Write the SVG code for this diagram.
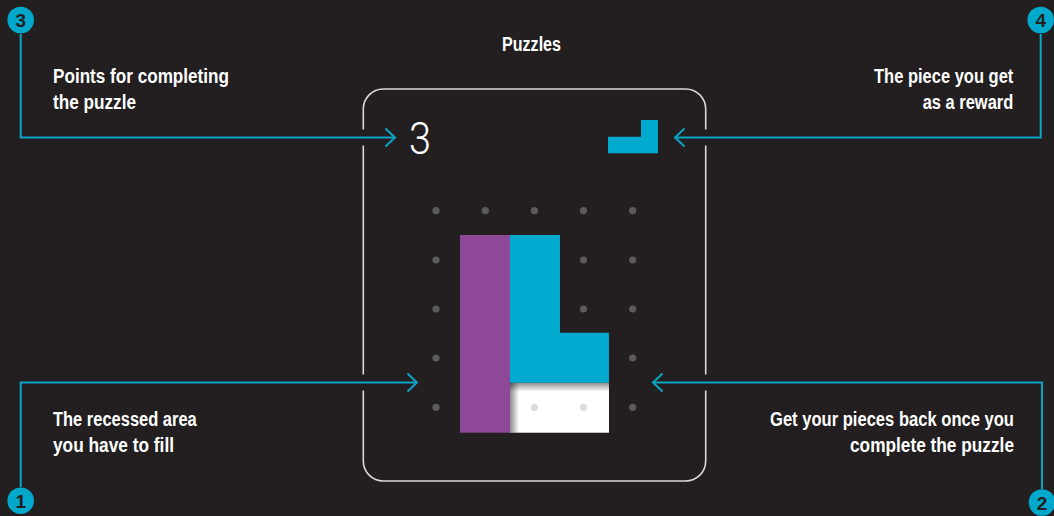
<svg xmlns="http://www.w3.org/2000/svg" width="1054" height="516" viewBox="0 0 1054 516">
  <defs>
    <style>
      .label { font-family: "Liberation Sans Narrow", "Liberation Sans", Arial, sans-serif; font-weight: 700; font-size: 20px; fill: #ffffff; }
      .badge { fill: #00a9cc; }
      .badge-num { font-family: "Liberation Sans", Arial, sans-serif; font-weight: 700; font-size: 19px; fill: #231f20; text-anchor: middle; }
      .lead { fill: none; stroke: #0ba4c6; stroke-width: 2; }
      .gap { fill: none; stroke: #231f20; stroke-width: 16; }
      .dot { fill: #5c5b5c; }
      .dot-light { fill: #dcdcdc; }
    </style>
    <linearGradient id="shadeTop" x1="0" y1="0" x2="0" y2="1">
      <stop offset="0" stop-color="#000" stop-opacity="0.45"/>
      <stop offset="1" stop-color="#000" stop-opacity="0"/>
    </linearGradient>
    <linearGradient id="shadeLeft" x1="0" y1="0" x2="1" y2="0">
      <stop offset="0" stop-color="#000" stop-opacity="0.45"/>
      <stop offset="1" stop-color="#000" stop-opacity="0"/>
    </linearGradient>
  </defs>

  <rect width="1054" height="516" fill="#231f20"/>

  <text class="label" x="531.5" y="50.5" text-anchor="middle" textLength="59" lengthAdjust="spacingAndGlyphs">Puzzles</text>

  <!-- puzzle card -->
  <g id="card">
    <rect x="363.3" y="89" width="342.4" height="392" rx="20" ry="20" fill="none" stroke="#d9d9d9" stroke-width="1.6"/>
    <text x="409" y="154" font-family="Roboto, 'Liberation Sans', sans-serif" font-weight="300" font-size="45" fill="#ffffff" textLength="22" lengthAdjust="spacingAndGlyphs">3</text>
    <!-- reward piece -->
    <path d="M641 120 H658 V153.3 H608 V136.7 H641 Z" fill="#00a9ce"/>
  </g>

  <!-- dot grid -->
  <g id="grid">
    <circle class="dot" cx="436" cy="210.7" r="3.6"/>
    <circle class="dot" cx="485.3" cy="210.7" r="3.6"/>
    <circle class="dot" cx="534.4" cy="210.7" r="3.6"/>
    <circle class="dot" cx="583.5" cy="210.7" r="3.6"/>
    <circle class="dot" cx="632.7" cy="210.7" r="3.6"/>
    <circle class="dot" cx="436" cy="260" r="3.6"/>
    <circle class="dot" cx="583.5" cy="260" r="3.6"/>
    <circle class="dot" cx="632.7" cy="260" r="3.6"/>
    <circle class="dot" cx="436" cy="309" r="3.6"/>
    <circle class="dot" cx="583.5" cy="309" r="3.6"/>
    <circle class="dot" cx="632.7" cy="309" r="3.6"/>
    <circle class="dot" cx="436" cy="358" r="3.6"/>
    <circle class="dot" cx="632.7" cy="358" r="3.6"/>
    <circle class="dot" cx="436" cy="407.3" r="3.6"/>
    <circle class="dot" cx="632.7" cy="407.3" r="3.6"/>
  </g>

  <!-- recessed area -->
  <g id="recess">
    <rect x="510" y="382.7" width="99" height="50" fill="#ffffff"/>
    <rect x="510" y="382.7" width="99" height="9" fill="url(#shadeTop)"/>
    <rect x="510" y="382.7" width="9" height="50" fill="url(#shadeLeft)"/>
    <circle class="dot-light" cx="534.4" cy="407.3" r="3.6"/>
    <circle class="dot-light" cx="583.5" cy="407.3" r="3.6"/>
  </g>

  <!-- placed pieces -->
  <g id="piece-purple">
    <rect x="460" y="235" width="50" height="197.7" fill="#8e4a98"/>
  </g>
  <g id="piece-cyan">
    <path d="M510 235 H560 V332.7 H609 V382.7 H510 Z" fill="#00a9ce"/>
  </g>

  <!-- connectors -->
  <g id="connectors">
    <!-- breaks in the card outline where the leads cross it -->
    <line class="gap" x1="355" y1="137.5" x2="372" y2="137.5"/>
    <line class="gap" x1="697" y1="137.5" x2="714" y2="137.5"/>
    <line class="gap" x1="355" y1="382.5" x2="372" y2="382.5"/>
    <line class="gap" x1="697" y1="382.5" x2="714" y2="382.5"/>

    <path class="lead" d="M20.7 34 V137.5 H395"/>
    <path class="lead" d="M385.5 128.5 L395 137.5 L385.5 146.5"/>

    <path class="lead" d="M1040.7 34 V137.5 H675"/>
    <path class="lead" d="M684.5 128.5 L675 137.5 L684.5 146.5"/>

    <path class="lead" d="M20.7 487 V382.5 H417"/>
    <path class="lead" d="M407.5 373.5 L417 382.5 L407.5 391.5"/>

    <path class="lead" d="M1042 489 V382.5 H653"/>
    <path class="lead" d="M662.5 373.5 L653 382.5 L662.5 391.5"/>
  </g>

  <!-- numbered callouts -->
  <g id="callout-3">
    <circle class="badge" cx="20.7" cy="20" r="13.3"/>
    <text class="badge-num" x="20.7" y="27">3</text>
    <text class="label" x="53" y="83.3" textLength="176" lengthAdjust="spacingAndGlyphs">Points for completing</text>
    <text class="label" x="53" y="109.3" textLength="83" lengthAdjust="spacingAndGlyphs">the puzzle</text>
  </g>

  <g id="callout-4">
    <circle class="badge" cx="1040.7" cy="20" r="13.3"/>
    <text class="badge-num" x="1040.7" y="27">4</text>
    <text class="label" text-anchor="end" x="1013.3" y="83.3" textLength="139.3" lengthAdjust="spacingAndGlyphs">The piece you get</text>
    <text class="label" text-anchor="end" x="1013.3" y="109.3" textLength="90.6" lengthAdjust="spacingAndGlyphs">as a reward</text>
  </g>

  <g id="callout-1">
    <circle class="badge" cx="20.7" cy="500.7" r="13.3"/>
    <text class="badge-num" x="20.7" y="507.7">1</text>
    <text class="label" x="53" y="425.7" textLength="143.7" lengthAdjust="spacingAndGlyphs">The recessed area</text>
    <text class="label" x="53" y="451.7" textLength="121" lengthAdjust="spacingAndGlyphs">you have to fill</text>
  </g>

  <g id="callout-2">
    <circle class="badge" cx="1042" cy="502.5" r="13.3"/>
    <text class="badge-num" x="1042" y="509.5">2</text>
    <text class="label" text-anchor="end" x="1014" y="425.5" font-size="19" textLength="244" lengthAdjust="spacingAndGlyphs">Get your pieces back once you</text>
    <text class="label" text-anchor="end" x="1014" y="451.7" textLength="164" lengthAdjust="spacingAndGlyphs">complete the puzzle</text>
  </g>
</svg>
